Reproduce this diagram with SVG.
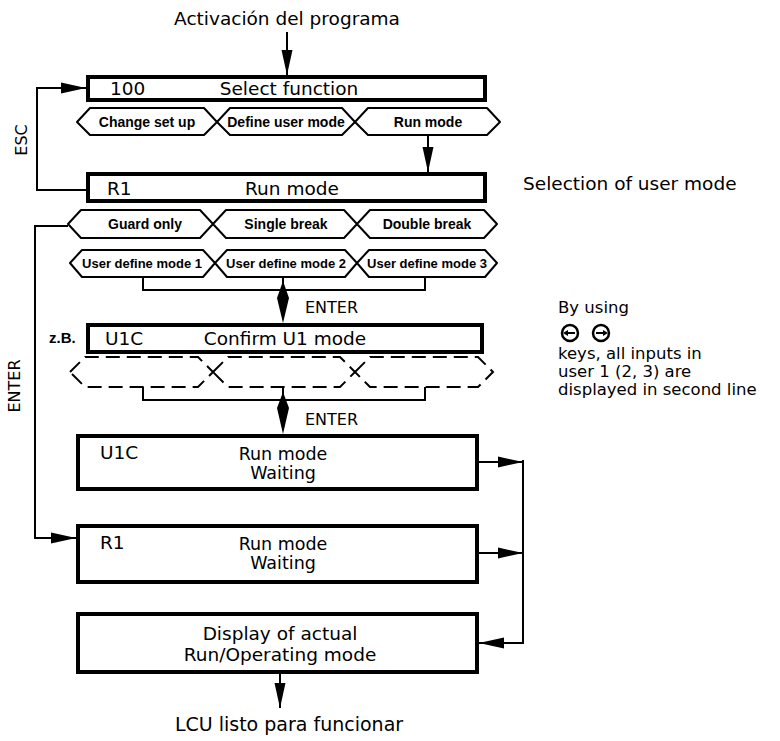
<svg xmlns="http://www.w3.org/2000/svg" width="780" height="741" viewBox="0 0 780 741">
<style>
text{font-family:"DejaVu Sans","Liberation Sans",Arial,sans-serif;fill:#000}
.t{font-size:18.5px}
.w{font-size:17.5px}
.n{font-size:16.5px}
.s{font-size:16px}
.h{font-family:"Liberation Sans",Arial,sans-serif;font-size:14px;font-weight:bold}
.hs{font-family:"Liberation Sans",Arial,sans-serif;font-size:13px;font-weight:bold}
.box{fill:#fff;stroke:#000;stroke-width:4}
.hex{fill:#fff;stroke:#000;stroke-width:2;stroke-linejoin:round}
.dash{fill:none;stroke:#000;stroke-width:2;stroke-dasharray:14 7}
.ln{fill:none;stroke:#000;stroke-width:2}
</style>
<defs>
<marker id="ah" viewBox="0 0 25 14" markerWidth="25" markerHeight="14" refX="25" refY="7" orient="auto" markerUnits="userSpaceOnUse">
<path d="M0,1.5 L25,7 L0,12.5 z" fill="#000"/>
</marker>
</defs>

<text class="t" x="287" y="25" text-anchor="middle">Activación del programa</text>

<g id="connectors">
<path class="ln" d="M287,32 L287,75" marker-end="url(#ah)"/>
<path class="ln" d="M428,135 L428,172" marker-end="url(#ah)"/>
<path class="ln" d="M88,190 L37,190 L37,88 L86,88" marker-end="url(#ah)"/>
<path class="ln" d="M68,226 L35,226 L35,538 L76,538" marker-end="url(#ah)"/>
<path class="ln" d="M143,277 L143,290 L425,290 L425,277 M283,277 L283,292"/>
<polygon points="283,281 289,298 283,323 277,298" fill="#000"/>
<path class="ln" d="M143,387 L143,400 L425,400 L425,387 M283,387 L283,402"/>
<polygon points="283,392 289,408 283,434 277,408" fill="#000"/>
<path class="ln" d="M479,462 L523,462" marker-end="url(#ah)"/>
<path class="ln" d="M479,553 L523,553" marker-end="url(#ah)"/>
<path class="ln" d="M523,460 L523,643 L479,643" marker-end="url(#ah)"/>
<path class="ln" d="M280,672 L280,708" marker-end="url(#ah)"/>
<text class="s" x="27" y="140" text-anchor="middle" transform="rotate(-90 27 140)">ESC</text>
<text class="s" x="20" y="386" text-anchor="middle" transform="rotate(-90 20 386)">ENTER</text>
<text class="s" x="305" y="313">ENTER</text>
<text class="s" x="305" y="425">ENTER</text>
</g>

<g id="n-select">
<rect class="box" x="88" y="77" width="397" height="23"/>
<text class="t" x="110" y="95">100</text>
<text class="t" x="289" y="95" text-anchor="middle">Select function</text>
</g>

<g id="n-hex1">
<polygon class="hex" points="77,122 90,108 204,108 217,122 204,135 90,135"/>
<polygon class="hex" points="217,122 230,108 342,108 355,122 342,135 230,135"/>
<polygon class="hex" points="355,122 368,108 487,108 500,122 487,135 368,135"/>
<text class="h" x="147" y="127" text-anchor="middle">Change set up</text>
<text class="h" x="286" y="127" text-anchor="middle">Define user mode</text>
<text class="h" x="428" y="127" text-anchor="middle">Run mode</text>
</g>

<g id="n-run">
<rect class="box" x="88" y="174" width="397" height="27"/>
<text class="t" x="107" y="195">R1</text>
<text class="t" x="292" y="195" text-anchor="middle">Run mode</text>
</g>

<g id="n-hex2">
<polygon class="hex" points="68,224 81,210 200,210 213,224 200,238 81,238"/>
<polygon class="hex" points="213,224 226,210 344,210 357,224 344,238 226,238"/>
<polygon class="hex" points="357,224 370,210 484,210 497,224 484,238 370,238"/>
<text class="h" x="145" y="229" text-anchor="middle">Guard only</text>
<text class="h" x="286" y="229" text-anchor="middle">Single break</text>
<text class="h" x="427" y="229" text-anchor="middle">Double break</text>
</g>

<g id="n-hex3">
<polygon class="hex" points="70,263 82,250 203,250 215,263 203,277 82,277"/>
<polygon class="hex" points="215,263 227,250 345,250 357,263 345,277 227,277"/>
<polygon class="hex" points="357,263 369,250 485,250 497,263 485,277 369,277"/>
<text class="hs" x="142" y="268" text-anchor="middle">User define mode 1</text>
<text class="hs" x="286" y="268" text-anchor="middle">User define mode 2</text>
<text class="hs" x="427" y="268" text-anchor="middle">User define mode 3</text>
</g>

<g id="n-confirm">
<text x="49" y="343" style="font-family:'Liberation Sans',Arial,sans-serif;font-size:15px;font-weight:bold">z.B.</text>
<rect class="box" x="88" y="325" width="394" height="27"/>
<text class="t" x="105" y="345">U1C</text>
<text class="t" x="285" y="345" text-anchor="middle">Confirm U1 mode</text>
</g>

<g id="n-hexdash">
<path class="dash" d="M70,372 L85,357 L198,357 L213,372 L198,387 L85,387 Z"/>
<path class="dash" d="M213,372 L228,357 L340,357 L355,372 L340,387 L228,387 Z"/>
<path class="dash" d="M355,372 L370,357 L478,357 L493,372 L478,387 L370,387 Z"/>
</g>

<g id="n-u1c">
<rect class="box" x="78" y="436" width="399" height="53"/>
<text class="t" x="100" y="459">U1C</text>
<text class="w" x="283" y="460" text-anchor="middle">Run mode</text>
<text class="w" x="283" y="479" text-anchor="middle">Waiting</text>
</g>

<g id="n-r1">
<rect class="box" x="78" y="526" width="399" height="56"/>
<text class="t" x="100" y="549">R1</text>
<text class="w" x="283" y="550" text-anchor="middle">Run mode</text>
<text class="w" x="283" y="569" text-anchor="middle">Waiting</text>
</g>

<g id="n-display">
<rect class="box" x="78" y="614" width="399" height="58"/>
<text class="t" x="280" y="640" text-anchor="middle">Display of actual</text>
<text class="t" x="280" y="661" text-anchor="middle">Run/Operating mode</text>
</g>

<text class="t" x="289" y="731" text-anchor="middle" style="font-size:19px">LCU listo para funcionar</text>

<g id="notes">
<text class="t" x="523" y="190">Selection of user mode</text>
<text class="n" x="558" y="313">By using</text>
<circle cx="570" cy="333" r="8" fill="none" stroke="#000" stroke-width="2.5"/>
<path d="M575,333 L566,333" stroke="#000" stroke-width="2"/>
<path d="M563,333 L568,330 L568,336 z" fill="#000"/>
<circle cx="601" cy="333" r="8" fill="none" stroke="#000" stroke-width="2.5"/>
<path d="M596,333 L605,333" stroke="#000" stroke-width="2"/>
<path d="M608,333 L603,330 L603,336 z" fill="#000"/>
<text class="n" x="558" y="359">keys, all inputs in</text>
<text class="n" x="558" y="377">user 1 (2, 3) are</text>
<text class="n" x="558" y="395">displayed in second line</text>
</g>
</svg>
